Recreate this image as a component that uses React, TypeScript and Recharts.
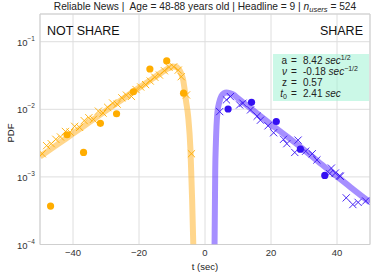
import {
  ComposedChart,
  Line,
  Scatter,
  XAxis,
  YAxis,
  CartesianGrid,
  ReferenceArea,
} from 'recharts';

// fitted model curves: [t (sec), pdf]
const notShareFit: [number, number][] = [
  [-50, 0.002], [-45, 0.00295], [-40, 0.00437], [-35, 0.00646], [-30, 0.00955],
  [-25, 0.0141], [-20, 0.0209], [-16, 0.0282], [-13, 0.0355], [-11, 0.0407],
  [-10, 0.0427], [-9, 0.0427], [-8, 0.0398], [-7.5, 0.0363], [-7, 0.0316],
  [-6.6, 0.0269], [-6.2, 0.02], [-5.8, 0.0138], [-5.1, 0.0078], [-4.4, 0.0025],
  [-3.9, 0.00046], [-3.55, 0.0001],
];
const shareFit: [number, number][] = [
  [2.9, 0.0001], [3.1, 0.00126], [3.3, 0.00316], [3.75, 0.0089], [4.3, 0.0126],
  [5, 0.0158], [5.8, 0.0174], [6.5, 0.0178], [7.5, 0.0174], [8.5, 0.0166],
  [10, 0.0145], [12.5, 0.0116], [15, 0.0093], [20, 0.006], [25, 0.0039],
  [30, 0.00251], [35, 0.00158], [40, 0.00102], [45, 0.00065], [50, 0.00042],
];

// binned empirical pdf (circles)
const notShareDots: [number, number][] = [
  [-46.8, 0.00037], [-41.8, 0.0042], [-36.8, 0.0023], [-31.7, 0.0062], [-26.8, 0.0086],
  [-21.7, 0.0182], [-16.7, 0.0395], [-11.6, 0.052], [-6.5, 0.0173],
];
const shareDots: [number, number][] = [
  [7.0, 0.0101], [14.1, 0.0127], [21.6, 0.0066], [28.9, 0.00257], [36.3, 0.00105],
];

// finer empirical pdf (crosses)
const notShareCross: [number, number][] = [
  [-49.3, 0.0022], [-48.0, 0.0029], [-46.6, 0.0031], [-45.2, 0.0036], [-43.8, 0.0039],
  [-42.3, 0.0047], [-40.9, 0.0046], [-39.5, 0.0056], [-38.0, 0.0054], [-36.6, 0.0068],
  [-35.2, 0.0075], [-33.8, 0.0071], [-32.3, 0.0094], [-30.9, 0.0088], [-29.5, 0.0107],
  [-28.0, 0.0124], [-26.6, 0.0119], [-25.2, 0.0148], [-23.8, 0.0162], [-22.3, 0.0155],
  [-20.9, 0.0196], [-19.5, 0.0214], [-18.0, 0.0232], [-16.6, 0.0262], [-15.2, 0.0298],
  [-13.8, 0.0321], [-12.3, 0.0372], [-10.9, 0.0418], [-9.5, 0.0425], [-8.1, 0.038],
  [-7.2, 0.0304], [-5.6, 0.0163], [-4.1, 0.0022],
];
const shareCross: [number, number][] = [
  [4.45, 0.00925], [6.5, 0.0138], [7.7, 0.0154], [10.5, 0.0116], [11.5, 0.0123],
  [13.8, 0.0098], [15.8, 0.0079], [16.8, 0.0069], [19.1, 0.0057], [20.8, 0.0045],
  [23.8, 0.0036], [24.8, 0.0031], [27.2, 0.0023], [28.2, 0.0035], [30.5, 0.0024],
  [32.5, 0.0022], [33.9, 0.00178], [37.8, 0.00112], [38.3, 0.00135], [39.5, 0.00114],
  [40.8, 0.00104], [41.0, 0.00102], [42.8, 0.00049], [44.8, 0.00039], [46.4, 0.00042],
  [48.7, 0.00044],
];

const xTicks = [-40, -20, 0, 20, 40];
const yTicks = [1e-4, 1e-3, 1e-2, 1e-1];

const toPts = (arr: [number, number][]) => arr.map(([t, y]) => ({ t, y }));

const FONT = '"Liberation Sans", Arial, sans-serif';
const ORANGE = '#ffad00';
const BLUE = '#3410f2';

const Cross = (color: string) => (props: any) => {
  const { cx, cy } = props;
  const s = 3.6;
  return (
    <path
      d={`M${cx - s},${cy - s}L${cx + s},${cy + s}M${cx - s},${cy + s}L${cx + s},${cy - s}`}
      stroke={color}
      strokeWidth={0.9}
      fill="none"
    />
  );
};

const Dot = (color: string) => (props: any) => (
  <circle cx={props.cx} cy={props.cy} r={3.6} fill={color} />
);

const YTick = ({ x, y, payload }: any) => {
  const exp = Math.round(Math.log10(payload.value));
  return (
    <text x={x} y={y} textAnchor="end" fill="#333" fontSize={9.5} fontFamily={FONT}>
      <tspan dy={4}>10</tspan>
      <tspan dy={-5} fontSize={6.5}>{'\u2212' + Math.abs(exp)}</tspan>
    </text>
  );
};

const sup = (s: string) => (
  <span style={{ fontSize: 7, position: 'relative', top: -4 }}>{s}</span>
);
const sub = (s: string) => (
  <span style={{ fontSize: 7, position: 'relative', top: 2 }}>{s}</span>
);

const legendRows = [
  [<span>a</span>, <span>8.42 <i>sec</i>{sup('1/2')}</span>],
  [<i>ν</i>, <span>-0.18 <i>sec</i>{sup('\u22121/2')}</span>],
  [<span>z</span>, <span>0.57</span>],
  [<span><i>t</i>{sub('0')}</span>, <span>2.41 <i>sec</i></span>],
];

export default function App() {
  return (
    <div style={{ position: 'absolute', left: 0, top: 0, width: 374, height: 275, background: '#fff', fontFamily: FONT }}>
      <ComposedChart width={374} height={275} margin={{ top: 14, right: 4, bottom: 0, left: 0 }}>
        <CartesianGrid stroke="#dedede" strokeWidth={1} />
        <XAxis
          dataKey="t"
          type="number"
          domain={[-50, 50]}
          ticks={xTicks}
          allowDataOverflow
          height={30.5}
          axisLine={false}
          tickLine={false}
          tickSize={0}
          tickMargin={5}
          tick={{ fill: '#333', fontSize: 9.5, fontFamily: FONT }}
          tickFormatter={(v: number) => String(v).replace('-', '\u2212')}
        />
        <YAxis
          dataKey="y"
          type="number"
          scale="log"
          domain={[1e-4, 0.257]}
          ticks={yTicks}
          allowDataOverflow
          width={40}
          axisLine={false}
          tickLine={false}
          tickSize={0}
          tickMargin={5}
          tick={<YTick />}
        />
        <ReferenceArea x1={-50} x2={50} y1={1e-4} y2={0.257} fill="none" stroke="#cfcfcf" strokeWidth={1} />
        <Line
          data={toPts(notShareFit)}
          dataKey="y"
          type="monotone"
          stroke="#ffb52e"
          strokeOpacity={0.55}
          strokeWidth={6}
          dot={false}
          isAnimationActive={false}
        />
        <Line
          data={toPts(shareFit)}
          dataKey="y"
          type="monotone"
          stroke="#6a45ff"
          strokeOpacity={0.6}
          strokeWidth={6}
          dot={false}
          isAnimationActive={false}
        />
        <Scatter data={toPts(notShareCross)} dataKey="y" shape={Cross(ORANGE)} isAnimationActive={false} />
        <Scatter data={toPts(shareCross)} dataKey="y" shape={Cross(BLUE)} isAnimationActive={false} />
        <Scatter data={toPts(notShareDots)} dataKey="y" shape={Dot(ORANGE)} isAnimationActive={false} />
        <Scatter data={toPts(shareDots)} dataKey="y" shape={Dot(BLUE)} isAnimationActive={false} />
      </ComposedChart>

      <div style={{ position: 'absolute', left: 0, width: 410, top: 1, textAlign: 'center', fontSize: 10.2, color: '#222', whiteSpace: 'nowrap' }}>
        Reliable News |&nbsp; Age = 48-88 years old | Headline = 9 | <i>n</i>
        <span style={{ fontSize: 7.5, position: 'relative', top: 2 }}><i>users</i></span> = 524
      </div>
      <div style={{ position: 'absolute', left: 47, top: 24, fontSize: 12.5, color: '#111' }}>NOT SHARE</div>
      <div style={{ position: 'absolute', right: 11, top: 24, fontSize: 12.5, color: '#111' }}>SHARE</div>

      <div
        style={{
          position: 'absolute',
          left: 273,
          top: 54,
          width: 96,
          height: 47,
          background: 'rgba(160,243,212,0.55)',
          fontSize: 10,
          color: '#222',
        }}
      >
        {legendRows.map(([lab, val], i) => (
          <div key={i} style={{ position: 'absolute', top: 1 + i * 11, left: 0, height: 11, lineHeight: '11px', width: 96 }}>
            <span style={{ position: 'absolute', right: 82, whiteSpace: 'nowrap' }}>{lab}</span>
            <span style={{ position: 'absolute', left: 18 }}>=</span>
            <span style={{ position: 'absolute', left: 30, whiteSpace: 'nowrap' }}>{val}</span>
          </div>
        ))}
      </div>

      <div
        style={{
          position: 'absolute',
          left: 10,
          top: 133,
          transform: 'translate(-50%, -50%) rotate(-90deg)',
          fontSize: 9.5,
          color: '#222',
        }}
      >
        PDF
      </div>
      <div style={{ position: 'absolute', left: 205, top: 266, transform: 'translate(-50%, -50%)', fontSize: 9.5, color: '#222', whiteSpace: 'nowrap' }}>
        t (sec)
      </div>
    </div>
  );
}
